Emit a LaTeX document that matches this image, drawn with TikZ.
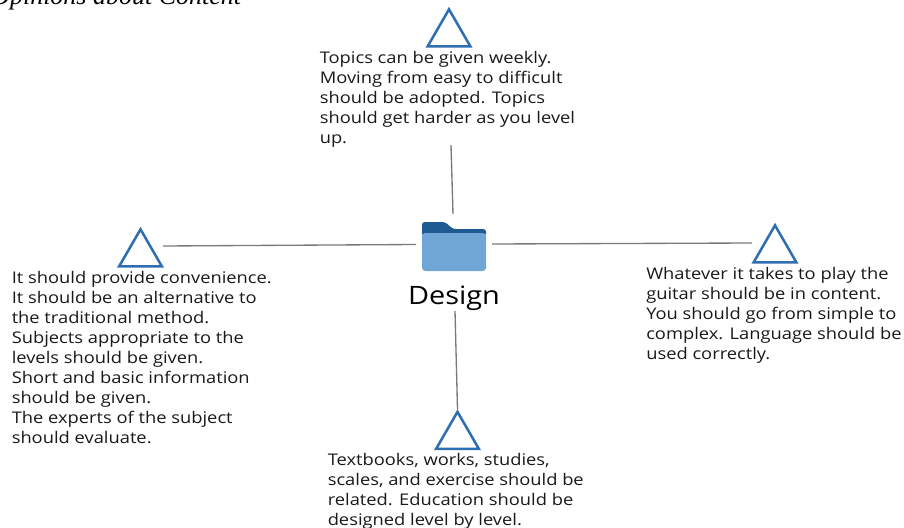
\documentclass[tikz,border=0pt]{standalone}
\usepackage{fontspec}
\setmainfont[FakeStretch=1.14]{Open Sans}
\newfontfamily\titlefont{Liberation Serif}
\usetikzlibrary{shapes.geometric,calc}
\definecolor{folderdark}{HTML}{1F5B92}
\definecolor{folderlight}{HTML}{70A6D6}
\definecolor{triblue}{HTML}{2F6EB1}

\begin{document}
\begin{tikzpicture}[
        %We set the scale and define some styles
        x=0.75pt, y=-0.75pt,
        marker/.style={regular polygon, regular polygon sides=3, draw=triblue, line width=1.9pt, minimum size=37pt, inner sep=0pt},
        spoke/.style={draw=black!52, line width=1pt},
        opinion/.style={anchor=north west, align=left, inner sep=0pt, font=\fontsize{12.05}{15}\selectfont, text=black!90}
     ]
    \useasboundingbox (0,0) rectangle (904,528);
    \clip (0,0) rectangle (904,528);
    % Title is cut off by the top edge
    \node[anchor=base west, inner sep=0pt, font=\titlefont\itshape\fontsize{19.5}{22}\selectfont] (title) at (-9,5) {Opinions about Content};

    % Free ends of the spokes
    \coordinate (top_beg) at (451,145);
    \coordinate (top_end) at (453,214);
    \coordinate (left_beg) at (163,246);
    \coordinate (left_end) at (416,244.5);
    \coordinate (right_beg) at (492,244);
    \coordinate (right_end) at (752,243);
    \coordinate (bottom_beg) at (455,311);

    % Folder in the middle
    \fill[folderdark, rounded corners=2pt]
        (422,236) -- (422,222) -- (445,222) -- (453,229) -- (486,229) -- (486,236) -- cycle;
    \fill[folderlight, rounded corners=2.5pt]
        (422,233) rectangle (486,271);
    \node[inner sep=0pt, font=\fontsize{19}{20}\selectfont] (design) at (454,298) {Design};

    % Triangles
    \node[marker] (tri_top) at (449,34) {};
    \node[marker] (tri_left) at (140.5,254) {};
    \node[marker] (tri_right) at (775,250) {};
    \node[marker] (tri_bottom) at (457.5,436.5) {};

    % Spokes
    \draw[spoke] (top_beg) -- (top_end);
    \draw[spoke] (left_beg) -- (left_end);
    \draw[spoke] (right_beg) -- (right_end);
    \draw[spoke] (bottom_beg) -- (tri_bottom.north);

    % Texts
    \node[opinion] (txt_top) at (319.5,51) {Topics can be given weekly.\\Moving from easy to difficult\\should be adopted. Topics\\should get harder as you level\\up.};
    \node[opinion] (txt_left) at (11.5,271) {It should provide convenience.\\It should be an alternative to\\the traditional method.\\Subjects appropriate to the\\levels should be given.\\Short and basic information\\should be given.\\The experts of the subject\\should evaluate.};
    \node[opinion] (txt_right) at (646,267) {Whatever it takes to play the\\guitar should be in content.\\You should go from simple to\\complex. Language should be\\used correctly.};
    \node[opinion] (txt_bottom) at (327.5,453) {Textbooks, works, studies,\\scales, and exercise should be\\related. Education should be\\designed level by level.};
\end{tikzpicture}
\end{document}
